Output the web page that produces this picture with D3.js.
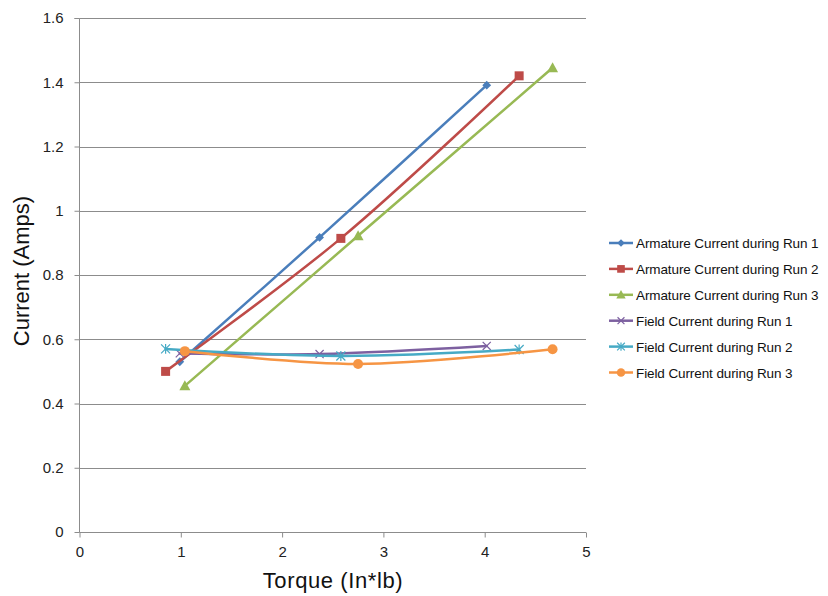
<!DOCTYPE html>
<html>
<head>
<meta charset="utf-8">
<script src="https://cdn.jsdelivr.net/npm/d3@7"></script>
<style>
  html, body { margin: 0; padding: 0; background: #fff; }
  svg { display: block; font-family: "Liberation Sans", Arial, sans-serif; }
</style>
</head>
<body>
<svg id="chart" width="828" height="596"></svg>
<script>
// Torque readings (in*lb) for each run
const torqueRun1 = [0.99, 2.37, 4.02];
const torqueRun2 = [0.85, 2.58, 4.34];
const torqueRun3 = [1.04, 2.75, 4.67];

// Current readings (A)
const armatureRun1 = [0.53, 0.917, 1.391];
const armatureRun2 = [0.50, 0.914, 1.42];
const armatureRun3 = [0.455, 0.922, 1.445];
const fieldRun1 = [0.556, 0.554, 0.579];
const fieldRun2 = [0.57, 0.548, 0.568];
const fieldRun3 = [0.563, 0.523, 0.569];

const xTicks = [0, 1, 2, 3, 4, 5];
const yTicks = [0, 0.2, 0.4, 0.6, 0.8, 1, 1.2, 1.4, 1.6];

const seriesList = [
  { name: "Armature Current during Run 1", x: torqueRun1, y: armatureRun1, color: "#4A7EBB", marker: "diamond" },
  { name: "Armature Current during Run 2", x: torqueRun2, y: armatureRun2, color: "#BE4B48", marker: "square" },
  { name: "Armature Current during Run 3", x: torqueRun3, y: armatureRun3, color: "#98B954", marker: "triangle" },
  { name: "Field Current during Run 1", x: torqueRun1, y: fieldRun1, color: "#7D60A0", marker: "cross" },
  { name: "Field Current during Run 2", x: torqueRun2, y: fieldRun2, color: "#46AAC5", marker: "asterisk" },
  { name: "Field Current during Run 3", x: torqueRun3, y: fieldRun3, color: "#F69544", marker: "circle" }
];

const svg = d3.select("#chart");
const plotLeft = 79.5, plotRight = 586, plotTop = 18, plotBottom = 532;

const x = d3.scaleLinear().domain([0, 5]).range([plotLeft, plotRight]);
const y = d3.scaleLinear().domain([0, 1.6]).range([plotBottom, plotTop]);

// horizontal gridlines
svg.append("g")
  .selectAll("line")
  .data(yTicks.filter(d => d > 0))
  .join("line")
  .attr("x1", plotLeft).attr("x2", plotRight)
  .attr("y1", d => Math.round(y(d)) + 0.5).attr("y2", d => Math.round(y(d)) + 0.5)
  .attr("stroke", "#8c8c8c").attr("stroke-width", 1);

// y axis
const yAxis = svg.append("g")
  .attr("transform", `translate(${Math.round(plotLeft) - 0.5},0)`)
  .call(d3.axisLeft(y).tickValues(yTicks).tickSize(5).tickFormat(d3.format("~g")));
yAxis.select(".domain").attr("stroke", "#8c8c8c").attr("d", `M-5,${Math.round(plotTop)+0.5}H0V${Math.round(plotBottom)+0.5}`);
yAxis.selectAll(".tick line").attr("stroke", "#8c8c8c");
yAxis.selectAll(".tick text").attr("x", -16).attr("font-size", 15).attr("fill", "#222")
  .attr("font-family", "Liberation Sans, Arial, sans-serif");

// x axis
const xAxis = svg.append("g")
  .attr("transform", `translate(0,${Math.round(plotBottom) + 0.5})`)
  .call(d3.axisBottom(x).tickValues(xTicks).tickSize(5).tickFormat(d3.format("d")));
xAxis.select(".domain").attr("stroke", "#8c8c8c").attr("d", `M${plotLeft},0H${plotRight}`);
xAxis.selectAll(".tick line").attr("stroke", "#8c8c8c");
xAxis.selectAll(".tick text").attr("y", 14).attr("font-size", 15).attr("fill", "#222")
  .attr("font-family", "Liberation Sans, Arial, sans-serif");

// axis titles
svg.append("text")
  .attr("x", 333).attr("y", 588)
  .attr("text-anchor", "middle").attr("font-size", 22).attr("fill", "#111")
  .attr("letter-spacing", 0.6)
  .text("Torque (In*lb)");
svg.append("text")
  .attr("transform", `translate(29,271) rotate(-90)`)
  .attr("text-anchor", "middle").attr("font-size", 22).attr("fill", "#111")
  .text("Current (Amps)");

// marker drawing
function drawMarker(g, type, color, size) {
  const s = size;
  if (type === "diamond") {
    g.append("path").attr("d", `M0,${-s*0.55}L${s*0.55},0L0,${s*0.55}L${-s*0.55},0Z`).attr("fill", color);
  } else if (type === "square") {
    g.append("rect").attr("x", -s/2).attr("y", -s/2).attr("width", s).attr("height", s).attr("fill", color);
  } else if (type === "triangle") {
    g.append("path").attr("d", `M0,${-s*0.55}L${s*0.55},${s*0.45}L${-s*0.55},${s*0.45}Z`).attr("fill", color);
  } else if (type === "cross") {
    const h = s * 0.45;
    g.append("path").attr("d", `M${-h},${-h}L${h},${h}M${-h},${h}L${h},${-h}`)
      .attr("stroke", color).attr("stroke-width", 1.2).attr("fill", "none");
  } else if (type === "asterisk") {
    const h = s * 0.45;
    g.append("path").attr("d", `M${-h},${-h}L${h},${h}M${-h},${h}L${h},${-h}M0,${-h*1.1}L0,${h*1.1}`)
      .attr("stroke", color).attr("stroke-width", 1.2).attr("fill", "none");
  } else if (type === "circle") {
    g.append("circle").attr("r", s / 2).attr("fill", color);
  }
}

const markerSize = { diamond: 8, square: 9, triangle: 10, cross: 9, asterisk: 10, circle: 10 };

const line = d3.line()
  .x(d => x(d[0]))
  .y(d => y(d[1]))
  .curve(d3.curveCatmullRom.alpha(0.5));

const plot = svg.append("g");
seriesList.forEach(s => {
  const pts = s.x.map((v, i) => [v, s.y[i]]);
  plot.append("path")
    .datum(pts)
    .attr("d", line)
    .attr("fill", "none")
    .attr("stroke", s.color)
    .attr("stroke-width", 2.5)
    .attr("stroke-linejoin", "round")
    .attr("stroke-linecap", "round");
  pts.forEach(p => {
    const g = plot.append("g").attr("transform", `translate(${x(p[0])},${y(p[1])})`);
    drawMarker(g, s.marker, s.color, markerSize[s.marker]);
  });
});

// legend
const legend = svg.append("g").attr("transform", "translate(609,243)");
seriesList.forEach((s, i) => {
  const row = legend.append("g").attr("transform", `translate(0,${i * 25.9})`);
  row.append("line").attr("x1", 0).attr("x2", 24).attr("y1", 0).attr("y2", 0)
    .attr("stroke", s.color).attr("stroke-width", 2.5);
  const m = row.append("g").attr("transform", "translate(12,0)");
  drawMarker(m, s.marker, s.color, markerSize[s.marker] * 0.85);
  row.append("text").attr("x", 27).attr("y", 5)
    .attr("font-size", 13.5).attr("fill", "#111").attr("letter-spacing", -0.1)
    .text(s.name);
});
</script>
</body>
</html>
